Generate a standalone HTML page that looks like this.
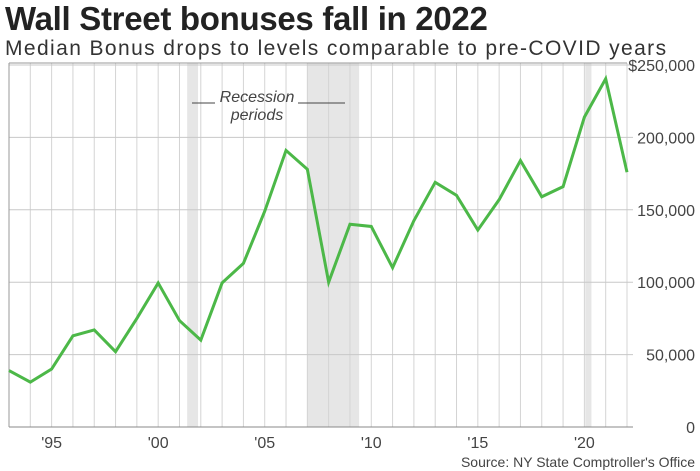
<!DOCTYPE html>
<html><head><meta charset="utf-8"><style>
body{margin:0;background:#fff;font-family:"Liberation Sans",sans-serif;}
#wrap{position:relative;width:700px;height:471px;overflow:hidden;}
#title{position:absolute;left:5px;top:0px;font-size:33px;font-weight:bold;color:#222;letter-spacing:-0.3px;}
#sub{position:absolute;left:5px;top:37px;font-size:21px;color:#333;letter-spacing:1.4px;}
svg{position:absolute;left:0;top:0;}
</style></head><body>
<div id="wrap">
<div id="title">Wall Street bonuses fall in 2022</div>
<div id="sub">Median Bonus drops to levels comparable to pre-COVID years</div>
<svg id="svg" width="700" height="471"></svg>
</div>
<script>
const years=[1993,1994,1995,1996,1997,1998,1999,2000,2001,2002,2003,2004,2005,2006,2007,2008,2009,2010,2011,2012,2013,2014,2015,2016,2017,2018,2019,2020,2021,2022];
const bonus=[39000,31000,40000,63000,67000,52000,75000,99500,73500,60000,99500,113000,149000,191000,178000,100000,140000,138500,110000,142500,169000,160000,136000,157000,184000,159000,166000,214000,240500,176000];
const yTicks=[0,50000,100000,150000,200000,250000];
const yTickLabels=["0","50,000","100,000","150,000","200,000","$250,000"];
const xTicks=[1995,2000,2005,2010,2015,2020];
const xTickLabels=["'95","'00","'05","'10","'15","'20"];
const recStart=[2001.36,2006.99,2020.04];
const recEnd=[2001.87,2009.43,2020.33];
const L=9,R=627,T=63,B=427;
const x=v=>L+(v-1993)/(2022-1993)*(R-L);
const y=v=>B-v/250000*(B-65);
const svg=document.getElementById('svg');
const NS='http://www.w3.org/2000/svg';
function mk(t,a){const e=document.createElementNS(NS,t);for(const k in a)e.setAttribute(k,a[k]);svg.appendChild(e);return e;}
for(let i=0;i<recStart.length;i++){
 const r=mk('rect',{x:x(recStart[i]),y:T,width:x(recEnd[i])-x(recStart[i]),height:B-T,fill:'#e6e6e6'});
 
 
}
for(let yr=1993;yr<=2022;yr++){
 const l=mk('line',{x1:x(yr),x2:x(yr),y1:T,y2:B,stroke:'#d4d4d4','stroke-width':1});
 
 
}
yTicks.forEach((t,i)=>{
 const l=mk('line',{x1:L,x2:R+6,y1:y(t),y2:y(t),stroke:i==0?'#888':'#c8c8c8','stroke-width':1});
 
 
 const tx=mk('text',{x:695,y:y(t)+6,'text-anchor':'end','font-size':16,fill:'#444'});
 tx.textContent=yTickLabels[i];
 
 
});
const lb=mk('line',{x1:L,x2:L,y1:T,y2:B,stroke:'#999','stroke-width':1});


const tb=mk('line',{x1:L,x2:R,y1:T,y2:T,stroke:'#999','stroke-width':1});


xTicks.forEach((t,i)=>{
 const tx=mk('text',{x:x(t),y:448,'text-anchor':'middle','font-size':16,fill:'#444'});
 tx.textContent=xTickLabels[i];
 
 
});
const p=mk('polyline',{points:years.map((yr,i)=>x(yr)+','+y(bonus[i])).join(' '),fill:'none',stroke:'#4cb848','stroke-width':3,'stroke-linejoin':'miter'});


const a1=mk('text',{x:257,y:102,'text-anchor':'middle','font-size':16,'font-style':'italic',fill:'#444'});
a1.textContent='Recession';


const a2=mk('text',{x:257,y:120,'text-anchor':'middle','font-size':16,'font-style':'italic',fill:'#444'});
a2.textContent='periods';


const ln1=mk('line',{x1:192,x2:215,y1:103,y2:103,stroke:'#444','stroke-width':1});


const ln2=mk('line',{x1:298,x2:345,y1:103,y2:103,stroke:'#444','stroke-width':1});


const src=mk('text',{x:695,y:467,'text-anchor':'end','font-size':14,fill:'#444'});
src.textContent="Source: NY State Comptroller's Office";


</script>
</body></html>
